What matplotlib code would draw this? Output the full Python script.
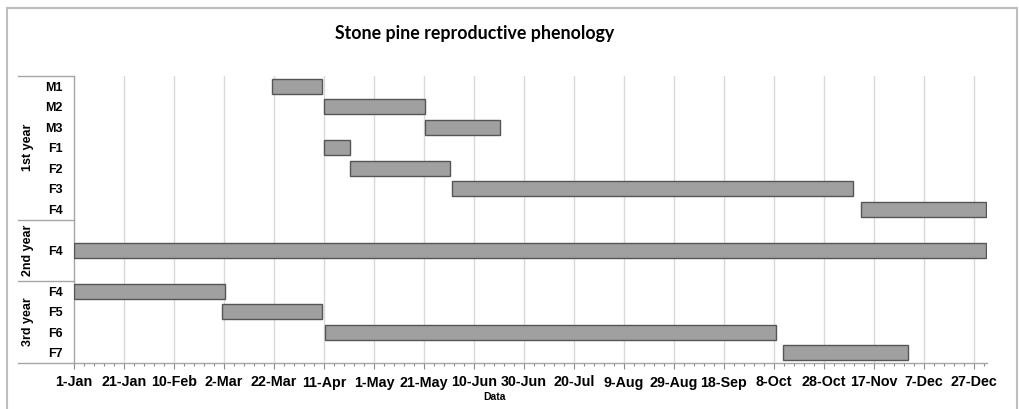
import matplotlib
matplotlib.use("Agg")
import matplotlib.pyplot as plt
import numpy as np
from matplotlib.patches import Rectangle
from matplotlib.lines import Line2D

# ---- data ----
# one row per slot of the category axis (blank slots separate the groups, as in the original)
row_labels = ["M1", "M2", "M3", "F1", "F2", "F3", "F4", "", "F4", "", "F4", "F5", "F6", "F7"]
# start / end as day of year (0 = 1-Jan)
starts = [79.3, 100.1, 140.4, 100.1, 110.4, 151.2, 314.7, np.nan, 0.0, np.nan, 0.0, 59.2, 100.4, 283.7]
ends = [99.3, 140.4, 170.4, 110.4, 150.4, 311.7, 364.7, np.nan, 365.0, np.nan, 60.4, 99.3, 280.7, 333.6]
groups = ["1st year", "2nd year", "3rd year"]
group_spans = [(0, 6), (7, 9), (10, 13)]
tick_days = [0, 20, 40, 60, 80, 100, 120, 140, 160, 180, 200, 220, 240, 260, 280, 300, 320, 340, 360]
tick_labels = ["1-Jan", "21-Jan", "10-Feb", "2-Mar", "22-Mar", "11-Apr", "1-May", "21-May",
               "10-Jun", "30-Jun", "20-Jul", "9-Aug", "29-Aug", "18-Sep", "8-Oct", "28-Oct",
               "17-Nov", "7-Dec", "27-Dec"]
title = "Stone pine reproductive phenology"
xlabel = "Data"

W, H = 1019, 409
fig = plt.figure(figsize=(W / 100, H / 100), dpi=100)
L, R, T, B = 74, 987, 76, 363
ax = fig.add_axes([L / W, (H - B) / H, (R - L) / W, (B - T) / H])

starts_a = np.array(starts)
ends_a = np.array(ends)
ypos = np.arange(len(row_labels))
mask = ~np.isnan(starts_a)
ax.barh(ypos[mask], (ends_a - starts_a)[mask], left=starts_a[mask], height=0.72,
        color="#a0a0a0", edgecolor="#555555", linewidth=1.0, zorder=3)

ax.set_xlim(0, 365.2)
ax.set_ylim(len(row_labels) - 0.5, -0.5)

ax.set_xticks(tick_days, tick_labels)
ax.set_xticks(np.arange(0, 365, 4), minor=True)
for lab in ax.get_xticklabels():
    lab.set_fontfamily("Liberation Sans")
    lab.set_fontweight("bold")
    lab.set_fontsize(10.3)
ax.tick_params(axis="x", which="major", length=4, width=0.8, color="#8a8a8a", pad=5)
ax.tick_params(axis="x", which="minor", length=2.5, width=0.8, color="#8a8a8a")

ax.set_yticks(ypos, row_labels)
for lab in ax.get_yticklabels():
    lab.set_fontfamily("Liberation Sans")
    lab.set_fontweight("bold")
    lab.set_fontsize(9)
ax.tick_params(axis="y", length=0, pad=8)

for d in tick_days[1:]:
    ax.axvline(d, color="#d9d9d9", linewidth=1.0, zorder=1)

for s in ["top", "right"]:
    ax.spines[s].set_visible(False)
for s in ["left", "bottom"]:
    ax.spines[s].set_color("#a6a6a6")
    ax.spines[s].set_linewidth(1.0)

# hierarchical category axis lines
xl = (18 - L) / (R - L)
tr = ax.get_yaxis_transform()
for yy in [-0.5, 6.5, 9.5, 13.5]:
    ax.add_line(Line2D([xl, 0], [yy, yy], transform=tr, color="#a6a6a6", linewidth=1.0, clip_on=False))

xg = (28 - L) / (R - L)
for g, (a, b) in zip(groups, group_spans):
    ax.text(xg, (a + b) / 2, g, transform=tr, rotation=90, ha="center", va="center",
            fontfamily="Liberation Sans", fontweight="bold", fontsize=9)

fig.text(474.5 / W, 1 - 33.5 / H, title, ha="center", va="center",
         fontfamily="Lato", fontweight="bold", fontsize=12.8)
fig.text(495 / W, 1 - 397 / H, xlabel, ha="center", va="center",
         fontfamily="Liberation Sans", fontweight="bold", fontsize=7.5)

fig.patches.append(Rectangle((7 / W, -0.05), (1017 - 7) / W, 1.05 - 8 / H,
                             transform=fig.transFigure, fill=False,
                             edgecolor="#bdbdbd", linewidth=1.5))

fig.savefig("out.png", dpi=100)
